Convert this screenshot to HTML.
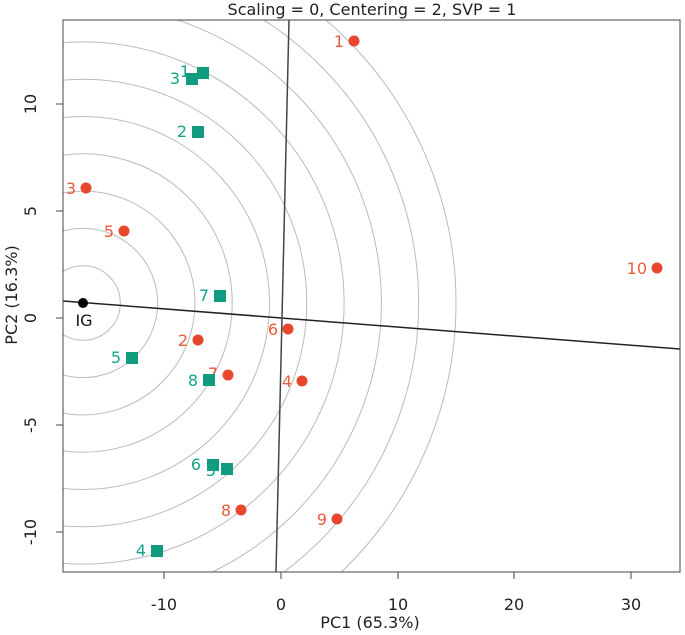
<!DOCTYPE html>
<html><head><style>html,body{margin:0;background:#fff;width:685px;height:635px;overflow:hidden}svg{display:block}</style></head><body>
<svg width="685" height="635" xmlns="http://www.w3.org/2000/svg" font-family="DejaVu Sans, Liberation Sans, sans-serif">
<defs><clipPath id="c"><rect x="63" y="20" width="617" height="552"/></clipPath></defs>
<g clip-path="url(#c)" fill="none" stroke="#bbb" stroke-width="1">
<circle cx="83" cy="303" r="37.3"/><circle cx="83" cy="303" r="74.6"/><circle cx="83" cy="303" r="111.9"/><circle cx="83" cy="303" r="149.2"/><circle cx="83" cy="303" r="186.5"/><circle cx="83" cy="303" r="223.8"/><circle cx="83" cy="303" r="261.1"/><circle cx="83" cy="303" r="298.4"/><circle cx="83" cy="303" r="335.7"/><circle cx="83" cy="303" r="373"/>
<line x1="63" y1="301" x2="680" y2="349" stroke="#222" stroke-width="1.5"/>
<line x1="289" y1="20" x2="276" y2="572" stroke="#444" stroke-width="1.5"/>
</g>
<rect x="63" y="20" width="617" height="552" fill="none" stroke="#444" stroke-width="1"/>
<g stroke="#444"><line x1="164" y1="572" x2="164" y2="579"/><line x1="281" y1="572" x2="281" y2="579"/><line x1="398" y1="572" x2="398" y2="579"/><line x1="514" y1="572" x2="514" y2="579"/><line x1="631" y1="572" x2="631" y2="579"/>
<line x1="63" y1="104" x2="56" y2="104"/><line x1="63" y1="211" x2="56" y2="211"/><line x1="63" y1="318" x2="56" y2="318"/><line x1="63" y1="425" x2="56" y2="425"/><line x1="63" y1="532" x2="56" y2="532"/></g>
<g font-size="16" fill="#222" text-anchor="middle"><text x="164" y="610">-10</text><text x="281" y="610">0</text><text x="398" y="610">10</text><text x="514" y="610">20</text><text x="631" y="610">30</text>
<text x="370" y="628">PC1 (65.3%)</text><text x="372" y="15">Scaling = 0, Centering = 2, SVP = 1</text>
<g transform="rotate(-90)"><text x="-104" y="36">10</text><text x="-211" y="36">5</text><text x="-318" y="36">0</text><text x="-425" y="36">-5</text><text x="-532" y="36">-10</text><text x="-295" y="17">PC2 (16.3%)</text></g></g>
<circle cx="83" cy="303" r="5" fill="#000"/><text x="84" y="326" font-size="16" text-anchor="middle" fill="#111">IG</text>
<g fill="#e8472e"><circle cx="354" cy="41" r="5.5"/><circle cx="86" cy="188" r="5.5"/><circle cx="124" cy="231" r="5.5"/><circle cx="657" cy="268" r="5.5"/><circle cx="288" cy="329" r="5.5"/><circle cx="198" cy="340" r="5.5"/><circle cx="228" cy="375" r="5.5"/><circle cx="302" cy="381" r="5.5"/><circle cx="241" cy="510" r="5.5"/><circle cx="337" cy="519" r="5.5"/></g>
<g fill="#e95a3f" font-size="16" text-anchor="end"><text x="344" y="47">1</text><text x="76" y="194">3</text><text x="114" y="237">5</text><text x="647" y="274">10</text><text x="278" y="335">6</text><text x="188" y="346">2</text><text x="218" y="379">7</text><text x="292" y="387">4</text><text x="231" y="516">8</text><text x="327" y="525">9</text></g>
<g fill="#119c80"><rect x="197" y="67" width="12" height="12"/><rect x="186" y="73" width="12" height="12"/><rect x="192" y="126" width="12" height="12"/><rect x="214" y="290" width="12" height="12"/><rect x="126" y="352" width="12" height="12"/><rect x="203" y="374" width="12" height="12"/><rect x="221" y="463" width="12" height="12"/><rect x="207" y="459" width="12" height="12"/><rect x="151" y="545" width="12" height="12"/></g>
<g fill="#16a488" font-size="16" text-anchor="end"><text x="190" y="77">1</text><text x="180" y="84">3</text><text x="187" y="137">2</text><text x="209" y="301">7</text><text x="121" y="363">5</text><text x="198" y="386">8</text><text x="216" y="476">5</text><text x="201" y="470">6</text><text x="146" y="556">4</text></g>
</svg>
</body></html>
